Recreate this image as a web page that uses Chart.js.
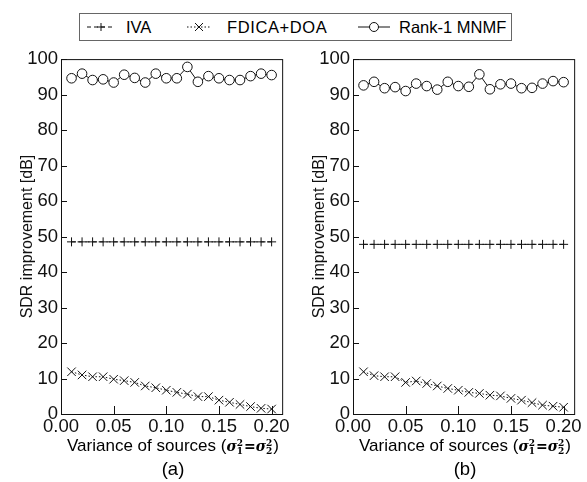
<!DOCTYPE html>
<html>
<head>
<meta charset="utf-8">
<script src="https://cdn.jsdelivr.net/npm/chart.js@4.4.1/dist/chart.umd.min.js"></script>
<style>
  body { margin: 0; background: #fff; width: 587px; height: 482px; position: relative; overflow: hidden;
         font-family: "Liberation Sans", Arial, sans-serif; color: #000; }
  .box { position: absolute; top: 45px; width: 292px; height: 400px; }
  #legend { position: absolute; left: 79px; top: 13px; width: 433px; height: 28px; box-sizing: border-box;
            border: 1px solid #666; font-size: 16.5px; }
  #legend span, #legend svg { position: absolute; }
  #legend span { top: 4px; }
  #legend svg { top: 7px; }
  .xt { position: absolute; top: 436px; width: 292px; text-align: center; font-size: 17px; white-space: nowrap; }
  .cap { position: absolute; top: 458px; width: 292px; text-align: center; font-size: 18.5px; }
  .m { font-family: "DejaVu Serif", "Liberation Serif", serif; font-style: italic; font-weight: bold; font-size: 14px; }
  .ss { display: inline-block; vertical-align: middle; line-height: 8px; font-size: 9px; text-align: left; margin-right: 1px; }
  .ss b { display: block; font-style: normal; }
</style>
</head>
<body>
<div id="legend">
  <svg style="left:7px" width="28" height="12"><line x1="0" y1="6" x2="28" y2="6" stroke="#111" stroke-dasharray="4,3"/><line x1="10" y1="6" x2="18" y2="6" stroke="#111"/><line x1="14" y1="2" x2="14" y2="10" stroke="#111"/></svg>
  <span style="left:46px">IVA</span>
  <svg style="left:107px" width="24" height="12"><line x1="0" y1="6" x2="24" y2="6" stroke="#111" stroke-dasharray="1.5,2"/><line x1="8" y1="2" x2="16" y2="10" stroke="#111"/><line x1="8" y1="10" x2="16" y2="2" stroke="#111"/></svg>
  <span style="left:147px; letter-spacing:0.6px">FDICA+DOA</span>
  <svg style="left:278px" width="32" height="12"><line x1="0" y1="6" x2="32" y2="6" stroke="#111"/><circle cx="16" cy="6" r="4.5" fill="#fff" stroke="#111"/></svg>
  <span style="left:319px">Rank-1 MNMF</span>
</div>

<div class="box" style="left:0px"><canvas id="chartA"></canvas></div>
<div class="box" style="left:292px"><canvas id="chartB"></canvas></div>

<div class="xt" style="left:27px">Variance of sources (<span class="m">σ</span><span class="ss m"><b>2</b><b>1</b></span><span class="m">=σ</span><span class="ss m"><b>2</b><b>2</b></span>)</div>
<div class="xt" style="left:319px">Variance of sources (<span class="m">σ</span><span class="ss m"><b>2</b><b>1</b></span><span class="m">=σ</span><span class="ss m"><b>2</b><b>2</b></span>)</div>
<div class="cap" style="left:27px">(a)</div>
<div class="cap" style="left:319px">(b)</div>

<script>
// data
const variances = [0.01, 0.02, 0.03, 0.04, 0.05, 0.06, 0.07, 0.08, 0.09, 0.10,
                   0.11, 0.12, 0.13, 0.14, 0.15, 0.16, 0.17, 0.18, 0.19, 0.20];
const xTicks = [0.00, 0.05, 0.10, 0.15, 0.20];
const yTicks = [0, 10, 20, 30, 40, 50, 60, 70, 80, 90, 100];

// (a)
const ivaA   = [48.5, 48.5, 48.5, 48.5, 48.5, 48.5, 48.5, 48.5, 48.5, 48.5,
                48.5, 48.5, 48.5, 48.5, 48.5, 48.5, 48.5, 48.5, 48.5, 48.5];
const fdicaA = [11.9, 11.0, 10.5, 10.5, 9.8, 9.4, 8.9, 7.9, 7.4, 6.7,
                6.1, 5.6, 4.9, 4.9, 3.9, 3.3, 2.7, 2.1, 1.6, 1.4];
const mnmfA  = [94.6, 95.9, 94.1, 94.3, 93.4, 95.6, 94.7, 93.4, 95.9, 94.6,
                94.6, 97.8, 93.6, 95.2, 94.6, 94.1, 94.1, 95.2, 95.9, 95.5];

// (b)
const ivaB   = [47.8, 47.8, 47.8, 47.8, 47.8, 47.8, 47.8, 47.8, 47.8, 47.8,
                47.8, 47.8, 47.8, 47.8, 47.8, 47.8, 47.8, 47.8, 47.8, 47.8];
const fdicaB = [11.9, 10.8, 10.5, 10.5, 8.9, 9.3, 8.6, 7.9, 7.2, 6.7,
                6.1, 5.8, 5.3, 5.1, 4.4, 3.9, 3.2, 2.5, 2.2, 1.9];
const mnmfB  = [92.6, 93.6, 91.8, 92.1, 91.0, 93.1, 92.4, 91.4, 93.6, 92.4,
                92.2, 95.7, 91.5, 92.9, 93.1, 91.8, 91.9, 93.1, 93.8, 93.5];

const TICK_FONT = { family: "'Liberation Sans', Arial, sans-serif", size: 18.5 };
const TITLE_FONT = { family: "'Liberation Sans', Arial, sans-serif", size: 16 };
const INK = "#111";

function pts(ys) {
  return variances.map((v, i) => ({ x: v, y: ys[i] }));
}

// frame + inward tick marks
const framePlugin = {
  id: "frame",
  afterDraw(chart) {
    const { ctx, chartArea: a, scales } = chart;
    ctx.save();
    ctx.strokeStyle = INK;
    ctx.lineWidth = 1;
    ctx.strokeRect(a.left + 0.5, a.top + 0.5, a.right - a.left, a.bottom - a.top);
    ctx.beginPath();
    scales.x.ticks.forEach(t => {
      const px = Math.round(scales.x.getPixelForValue(t.value)) + 0.5;
      ctx.moveTo(px, a.bottom);
      ctx.lineTo(px, a.bottom - 8);
    });
    scales.y.ticks.forEach(t => {
      const py = Math.round(scales.y.getPixelForValue(t.value)) + 0.5;
      ctx.moveTo(a.left, py);
      ctx.lineTo(a.left + 6, py);
    });
    ctx.stroke();
    ctx.restore();
  }
};

function makeChart(id, iva, fdica, mnmf) {
  const ctx = document.getElementById(id).getContext("2d");
  return new Chart(ctx, {
    type: "line",
    data: {
      datasets: [
        { label: "IVA", data: pts(iva), borderColor: INK, borderWidth: 1, borderDash: [4, 3],
          pointStyle: "cross", pointRadius: 4.5, pointBorderColor: INK, pointBorderWidth: 1 },
        { label: "FDICA+DOA", data: pts(fdica), borderColor: INK, borderWidth: 1, borderDash: [1.5, 2],
          pointStyle: "crossRot", pointRadius: 6, pointBorderColor: INK, pointBorderWidth: 1 },
        { label: "Rank-1 MNMF", data: pts(mnmf), borderColor: INK, borderWidth: 1,
          pointStyle: "circle", pointRadius: 4.8, pointBackgroundColor: "#fff",
          pointBorderColor: INK, pointBorderWidth: 1 }
      ]
    },
    options: {
      responsive: true,
      maintainAspectRatio: false,
      animation: false,
      layout: { padding: { top: 13, right: 8, left: 0, bottom: 0 } },
      plugins: { legend: { display: false }, tooltip: { enabled: false } },
      elements: { line: { tension: 0 } },
      scales: {
        x: {
          type: "linear", min: 0, max: 0.21,
          afterBuildTicks: s => { s.ticks = xTicks.map(v => ({ value: v })); },
          afterFit: s => { s.height = 31; },
          grid: { display: false, drawTicks: false },
          border: { display: false },
          ticks: { font: TICK_FONT, color: INK, padding: 2, maxRotation: 0,
                   callback: v => Number(v).toFixed(2) }
        },
        y: {
          min: 0, max: 100,
          afterBuildTicks: s => { s.ticks = yTicks.map(v => ({ value: v })); },
          afterFit: s => { s.width = 61; },
          grid: { display: false, drawTicks: false },
          border: { display: false },
          ticks: { font: TICK_FONT, color: INK, padding: 3 },
          title: { display: true, text: "SDR improvement [dB]", font: TITLE_FONT, color: INK,
                   padding: { top: 18, bottom: 0 } }
        }
      }
    },
    plugins: [framePlugin]
  });
}

makeChart("chartA", ivaA, fdicaA, mnmfA);
makeChart("chartB", ivaB, fdicaB, mnmfB);
</script>
</body>
</html>
